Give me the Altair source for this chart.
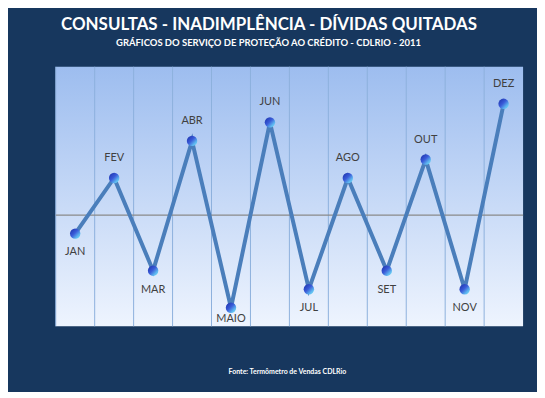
import altair as alt
import pandas as pd

months = ["JAN", "FEV", "MAR", "ABR", "MAIO", "JUN", "JUL", "AGO", "SET", "OUT", "NOV", "DEZ"]
values = [-1, 2, -3, 4, -5, 5, -4, 2, -3, 3, -4, 6]

title_text = "CONSULTAS - INADIMPLÊNCIA - DÍVIDAS QUITADAS"
subtitle_text = "GRÁFICOS DO SERVIÇO DE PROTEÇÃO AO CRÉDITO - CDLRIO - 2011"
source_text = "Fonte: Termômetro de Vendas CDLRio"

df = pd.DataFrame({"month": months, "value": values})

NAVY = "#17375E"
FONT = "Lato"

x_scale = alt.Scale(type="band", paddingInner=0, paddingOuter=0)
x_enc = alt.X("month:N", sort=months, scale=x_scale, axis=None)
y_scale = alt.Scale(domain=[-6, 8], nice=False, zero=False)
y_enc = alt.Y("value:Q", scale=y_scale, axis=None)

base = alt.Chart(df)

bg = alt.Chart(pd.DataFrame({"k": [0]})).mark_rect(
    color=alt.LinearGradient(
        gradient="linear", x1=0, y1=0, x2=0, y2=1,
        stops=[
            alt.GradientStop(offset=0, color="#9DBDEF"),
            alt.GradientStop(offset=1, color="#EEF4FE"),
        ],
    )
).encode(x=alt.value(0), x2=alt.value(470), y=alt.value(0), y2=alt.value(261))

grid = base.mark_rule(color="#8DB0DD", strokeWidth=1).encode(
    x=alt.X("month:N", sort=months, scale=x_scale, axis=None, bandPosition=0)
)

zero_rule = alt.Chart(pd.DataFrame({"z": [0]})).mark_rule(
    color="#8A8A8A", strokeWidth=1.2
).encode(y=alt.Y("z:Q", scale=y_scale, axis=None))

line = base.mark_line(color="#4A7EBB", strokeWidth=4, strokeJoin="miter").encode(x=x_enc, y=y_enc)

points = base.mark_point(
    filled=True, size=110, opacity=1,
    fill=alt.LinearGradient(
        gradient="linear", x1=0, y1=0, x2=1, y2=1,
        stops=[
            alt.GradientStop(offset=0, color="#1A2FA8"),
            alt.GradientStop(offset=0.45, color="#3A5BD8"),
            alt.GradientStop(offset=0.75, color="#5FB8F0"),
            alt.GradientStop(offset=1, color="#6FE6F5"),
        ],
    ),
).encode(x=x_enc, y=y_enc)

labels_up = base.transform_filter("datum.value >= 0").mark_text(
    dy=-20, fontSize=11, font=FONT, color="#404040"
).encode(x=x_enc, y=y_enc, text="month:N")

labels_down = base.transform_filter("datum.value < 0 && datum.value > -5").mark_text(
    dy=19, fontSize=11, font=FONT, color="#404040"
).encode(x=x_enc, y=y_enc, text="month:N")

labels_bottom = base.transform_filter("datum.value <= -5").mark_text(
    dy=11, fontSize=11, font=FONT, color="#404040"
).encode(x=x_enc, y=y_enc, text="month:N")

title = alt.Chart(pd.DataFrame({"t": [title_text]})).mark_text(
    fontSize=17, fontWeight="bold", font=FONT, color="white", baseline="middle"
).encode(x=alt.value(214.5), y=alt.value(-42), text="t:N")

subtitle = alt.Chart(pd.DataFrame({"t": [subtitle_text]})).mark_text(
    fontSize=9.5, fontWeight="bold", font=FONT, color="white", baseline="middle"
).encode(x=alt.value(214), y=alt.value(-24), text="t:N")

source = alt.Chart(pd.DataFrame({"t": [source_text]})).mark_text(
    fontSize=7, fontWeight="bold", font=FONT, color="white", baseline="middle"
).encode(x=alt.value(233), y=alt.value(307), text="t:N")

chart = alt.layer(
    bg, grid, zero_rule, line, points, labels_up, labels_down, labels_bottom,
    title, subtitle, source
).properties(
    width=470,
    height=261,
    autosize=alt.AutoSizeParams(type="none"),
    padding={"left": 48, "top": 58, "right": 14, "bottom": 65},
    background=NAVY,
).configure_view(
    strokeWidth=0,
)

chart.save("out.html", embed_options={"renderer": "svg", "actions": False})
